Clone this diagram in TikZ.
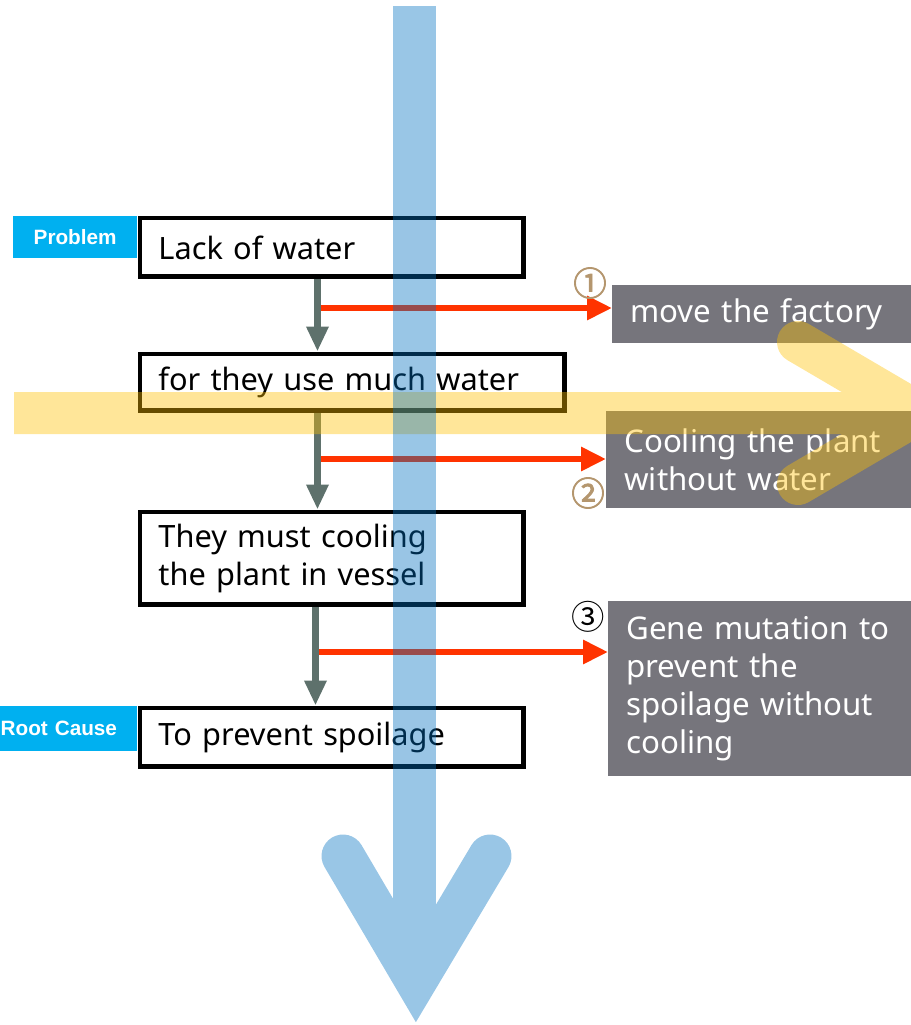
\documentclass[tikz,border=0pt]{standalone}
\usepackage{fontspec}
\setmainfont{Noto Sans}
\newfontfamily\tagfont{Liberation Sans}
\newfontfamily\circfont{Noto Sans CJK KR}
\newfontfamily\circboldfont{Noto Sans CJK KR}[FakeBold=2.5]
\usetikzlibrary{arrows.meta}

\definecolor{tagcyan}{HTML}{00B0F0}
\definecolor{notegray}{HTML}{76757C}
\definecolor{linkgray}{HTML}{5E716C}
\definecolor{fixred}{HTML}{FF3300}
\definecolor{numtan}{HTML}{B4966E}
\definecolor{flowblue}{HTML}{0070C0}
\definecolor{flowgold}{HTML}{FFC000}

\begin{document}
\begin{tikzpicture}[
  x=0.02cm, y=-0.02cm,
  cause/.style={draw, line width=2.8pt, anchor=north west, align=left,
                inner xsep=0.37cm, inner ysep=0pt, fill=white,
                font=\fontsize{17.5}{21.5}\selectfont},
  idea/.style={fill=notegray, text=white, anchor=north west, align=left,
               text width=5.6cm, inner xsep=0.36cm, inner ysep=0pt,
               font=\fontsize{17.8}{21.5}\selectfont},
  tag/.style={fill=tagcyan, text=white, anchor=north east, inner xsep=0.03cm,
              inner ysep=0pt, font=\tagfont\bfseries\fontsize{11.8}{13}\selectfont},
  num/.style={inner sep=0pt, font=\circfont\fontsize{19}{19}\selectfont},
  boldnum/.style={num, numtan, font=\circboldfont\fontsize{19}{19}\selectfont},
  flow/.style={linkgray, line width=4pt,
               -{Triangle[length=0.5cm, width=0.42cm]}},
  fix/.style={fixred, line width=3.4pt,
              -{Triangle[length=0.5cm, width=0.46cm]}}
]
  \useasboundingbox (0,0) rectangle (910,1025);

  % ── Why chain ─────────────────────────────────────────────────────────────

  \node[cause, text width=6.94cm, minimum height=1.18cm] (b1) at (137.5,215.5)
      {Lack of water};
  \node[cause, text width=7.76cm, minimum height=1.14cm] (b2) at (137.5,351.5)
      {for they use much water};
  \node[cause, text width=6.94cm, minimum height=1.86cm] (b3) at (137.5,509.5)
      {They must cooling\\the plant in vessel};
  \node[cause, text width=6.94cm, minimum height=1.17cm] (b4) at (137.5,705.5)
      {To prevent spoilage};

  % Tags
  \node[tag, minimum width=2.48cm, minimum height=0.84cm] (tp) at (b1.north west)
      {Problem};
  \node[tag, text width=2.7cm, align=left, minimum height=0.9cm] (tr) at (b4.north west)
      {Root Cause};

  % ── Solutions ─────────────────────────────────────────────────────────────

  \node[idea, minimum height=1.16cm] (sA) at (612,285) {move the factory};
  \node[idea, minimum height=1.94cm] (sB) at (606,411)
      {Cooling the plant\\without water};
  \node[idea, minimum height=3.5cm]  (sC) at (608,601)
      {Gene mutation to\\prevent the\\spoilage without\\cooling};

  \coordinate (r1) at (318,308);
  \coordinate (r2) at (318,459);
  \coordinate (r3) at (318,652);
  \draw[fix] (r1) -- (r1 -| sA.west);
  \draw[fix] (r2) -- (r2 -| sB.west);
  \draw[fix] (r3) -- (r3 -| sC.west);

  \node[boldnum] (n1) at (590,283) {①};
  \node[boldnum] (n2) at (588,493) {②};
  \node[num] (n3) at (588,617) {③};

  % Links
  \draw[flow] ([xshift=3.6cm]b1.south west) -- ([xshift=3.6cm]b2.north west);
  \draw[flow] ([xshift=3.6cm]b2.south west) -- ([xshift=3.6cm]b3.north west);
  \draw[flow] ([xshift=3.56cm]b3.south west) -- ([xshift=3.56cm]b4.north west);

  % ── Big arrows ────────────────────────────────────────────────────────────

  \begin{scope}
    \clip (0,0) rectangle (910,1025);
    \begin{scope}[transparency group, opacity=0.4]
      \draw[flowgold, line width=0.84cm] (14,413) -- (915,413);
      \draw[flowgold, line width=0.84cm, line cap=round, line join=miter]
        (798,342) -- (919,413) -- (798,484);
    \end{scope}
  \end{scope}

  \begin{scope}[transparency group, opacity=0.4]
    \draw[flowblue, line width=0.86cm] (414.5,6) -- (414.5,980);
    \draw[flowblue, line width=0.86cm, line cap=round, line join=miter]
      (343,856) -- (416,980) -- (490,856);
  \end{scope}

\end{tikzpicture}
\end{document}
